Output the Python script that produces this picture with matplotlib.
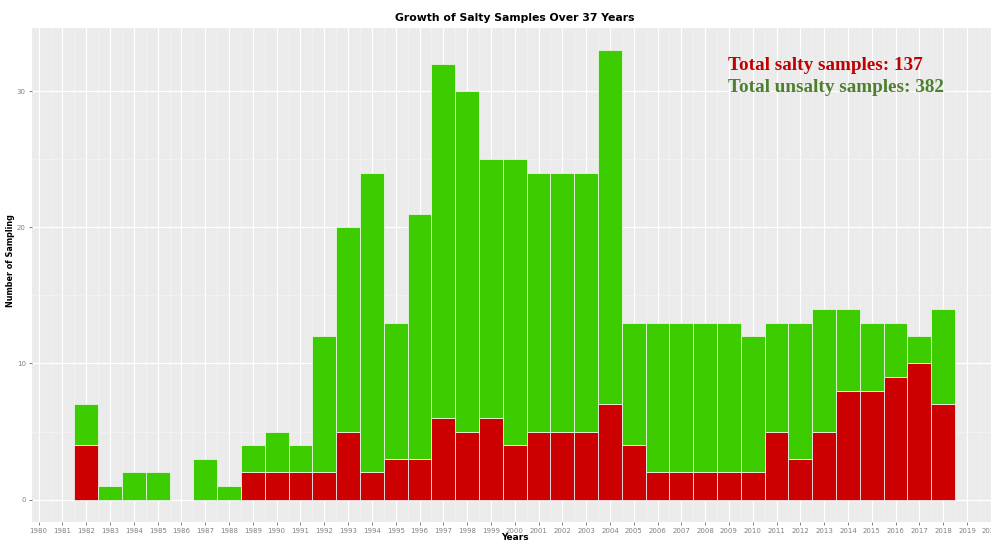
import numpy as np
import matplotlib.pyplot as plt

# year, salty count, total count
years = [1982, 1983, 1984, 1985, 1987, 1988, 1989, 1990, 1991, 1992, 1993,
         1994, 1995, 1996, 1997, 1998, 1999, 2000, 2001, 2002, 2003, 2004,
         2005, 2006, 2007, 2008, 2009, 2010, 2011, 2012, 2013, 2014, 2015,
         2016, 2017, 2018]
salty = [4, 0, 0, 0, 0, 0, 2, 2, 2, 2, 5, 2, 3, 3, 6, 5, 6, 4, 5, 5, 5, 7,
         4, 2, 2, 2, 2, 2, 5, 3, 5, 8, 8, 9, 10, 7]
total = [7, 1, 2, 2, 3, 1, 4, 5, 4, 12, 20, 24, 13, 21, 32, 30, 25, 25, 24,
         24, 24, 33, 13, 13, 13, 13, 13, 12, 13, 13, 14, 14, 13, 13, 12, 14]
unsalty = [t - s for t, s in zip(total, salty)]
year_labels = list(range(1980, 2021))

red = "#CC0000"
green = "#3CCC00"

fig = plt.figure(figsize=(9.91, 5.42), dpi=100)
ax = fig.add_axes([32 / 991, 20 / 542, 1 - 32 / 991, (522 - 28) / 542])
ax.set_facecolor("#EBEBEB")

ax.bar(years, salty, width=1.0, color=red, edgecolor="#F2E6E6", linewidth=0.6, zorder=3)
ax.bar(years, unsalty, width=1.0, bottom=salty, color=green,
       edgecolor="#EAF5E6", linewidth=0.6, zorder=3)

ax.set_xticks(year_labels)
ax.set_xticklabels([str(y) for y in year_labels])
ax.set_xticks(np.arange(1979.5, 2020.6, 1.0), minor=True)
ax.set_yticks([0, 10, 20, 30])
ax.set_yticks([5, 15, 25], minor=True)
# limits after the ticks, otherwise set_xticks widens them
ax.set_xlim(1979.72, 2020.01)
ax.set_ylim(-1.65, 34.65)
ax.grid(which="major", color="white", linewidth=0.9, zorder=0)
ax.grid(which="minor", color="#F4F4F4", linewidth=0.5, zorder=0)
ax.tick_params(which="major", labelsize=5, colors="#4D4D4D", length=2.5, width=0.5, pad=2)
ax.tick_params(which="minor", length=0)
for lab in ax.get_xticklabels() + ax.get_yticklabels():
    lab.set_color("#808080")
for s in ax.spines.values():
    s.set_visible(False)

fig.text(515 / 991, 1 - 18 / 542, "Growth of Salty Samples Over 37 Years",
         ha="center", va="center", fontsize=7.8, fontweight="bold")
fig.text(11 / 991, 1 - 261 / 542, "Number of Sampling", rotation=90,
         ha="center", va="center", fontsize=5.8, fontweight="bold")
fig.text(515 / 991, 0.5 / 542, "Years", ha="center", va="bottom",
         fontsize=6.5, fontweight="bold")

fig.text(728 / 991, 1 - 65 / 542, "Total salty samples: 137", color="#C00000",
         family="Liberation Serif", fontweight="bold", fontsize=13.8, va="center")
fig.text(728 / 991, 1 - 88 / 542, "Total unsalty samples: 382", color="#4E7F2E",
         family="Liberation Serif", fontweight="bold", fontsize=13.8, va="center")

fig.savefig("out.png", dpi=100)
